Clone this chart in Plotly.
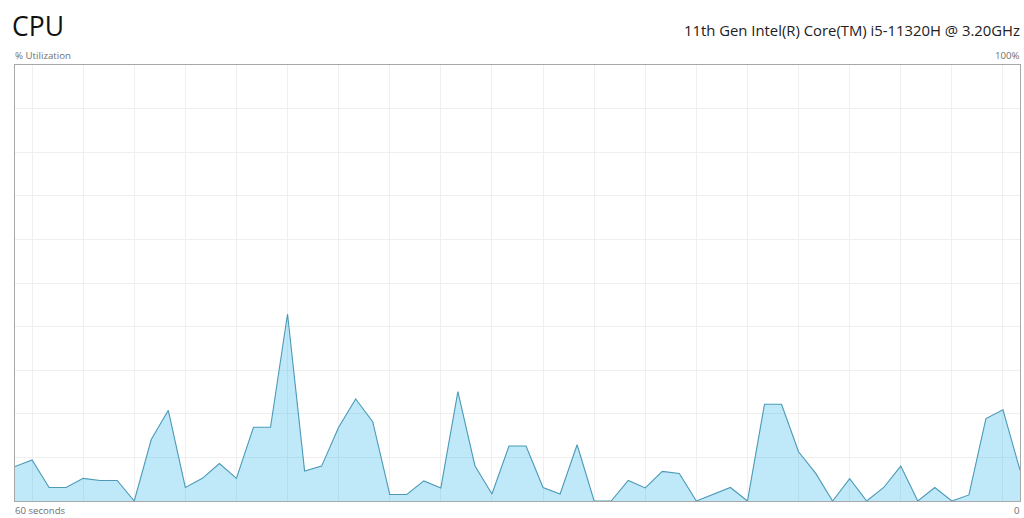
"""CPU utilization panel in the style of the Windows Task Manager."""
import plotly.graph_objects as go

# # Data
# -----------------------------------------------------|
samples = list(range(60))
utilization = [
    7.9, 9.4, 3.1, 3.1, 5.2, 4.7, 4.7, 0.0, 14.1, 20.8,
    3.1, 5.2, 8.6, 5.2, 16.9, 16.9, 42.9, 6.9, 8.0, 16.9,
    23.4, 18.2, 1.5, 1.5, 4.6, 3.0, 25.1, 8.1, 1.6, 12.6,
    12.6, 3.1, 1.6, 12.9, 0.0, 0.0, 4.7, 3.0, 6.8, 6.3,
    0.0, 1.6, 3.1, 0.0, 22.2, 22.2, 11.3, 6.4, 0.0, 5.1,
    0.0, 3.1, 8.0, 0.0, 3.1, 0.0, 1.4, 18.9, 20.9, 7.1,
]
title = "CPU"
processor = "11th Gen Intel(R) Core(TM) i5-11320H @ 3.20GHz"
y_label = "% Utilization"
y_max_label = "100%"
x_start_label = "60 seconds"
x_end_label = "0"

FONT = "Open Sans"
GREY = "#707070"
GRID = "#efefef"
FRAME = "#a8a8a8"

# # Figure
# -----------------------------------------------------|
fig = go.Figure(
    go.Scatter(
        x=samples,
        y=utilization,
        mode="lines",
        line=dict(color="#4b9ab8", width=1.1),
        fill="tozeroy",
        fillcolor="rgba(17,170,230,0.27)",
        hoverinfo="skip",
        showlegend=False,
    )
)

# small labels sit around the frame, in paper coordinates
labels = [
    (title, 0, 1, "left", "bottom", 26.5, "#111111", -5, 19),
    (processor, 1, 1, "right", "bottom", 14.85, "#222222", 2, 23),
    (y_label, 0, 1, "left", "bottom", 9.7, GREY, -2, 1),
    (y_max_label, 1, 1, "right", "bottom", 9.7, GREY, 2, 1),
    (x_start_label, 0, 0, "left", "top", 9.6, GREY, -2, -1),
    (x_end_label, 1, 0, "right", "top", 9.7, GREY, 2, -1),
]
for text, x, y, xanchor, yanchor, size, color, xshift, yshift in labels:
    fig.add_annotation(
        text=text, x=x, y=y, xref="paper", yref="paper",
        xanchor=xanchor, yanchor=yanchor, showarrow=False,
        xshift=xshift, yshift=yshift,
        font=dict(family=FONT, size=size, color=color),
    )

fig.update_layout(
    width=1024,
    height=518,
    margin=dict(l=15, r=4, t=65, b=17),
    paper_bgcolor="white",
    plot_bgcolor="white",
    font=dict(family=FONT),
    xaxis=dict(
        range=[0, 59], tick0=1, dtick=3, showticklabels=False, ticks="",
        showgrid=True, gridcolor=GRID, gridwidth=1, zeroline=False,
        showline=True, linecolor=FRAME, linewidth=1, mirror=True,
    ),
    yaxis=dict(
        range=[0, 100], dtick=10, showticklabels=False, ticks="",
        showgrid=True, gridcolor=GRID, gridwidth=1, zeroline=False,
        showline=True, linecolor=FRAME, linewidth=1, mirror=True,
    ),
)

# page margin would push the whole figure off by 8px
fig.write_html(
    "out.html",
    config=dict(displayModeBar=False),
    post_script="document.body.style.margin = '0';",
)
